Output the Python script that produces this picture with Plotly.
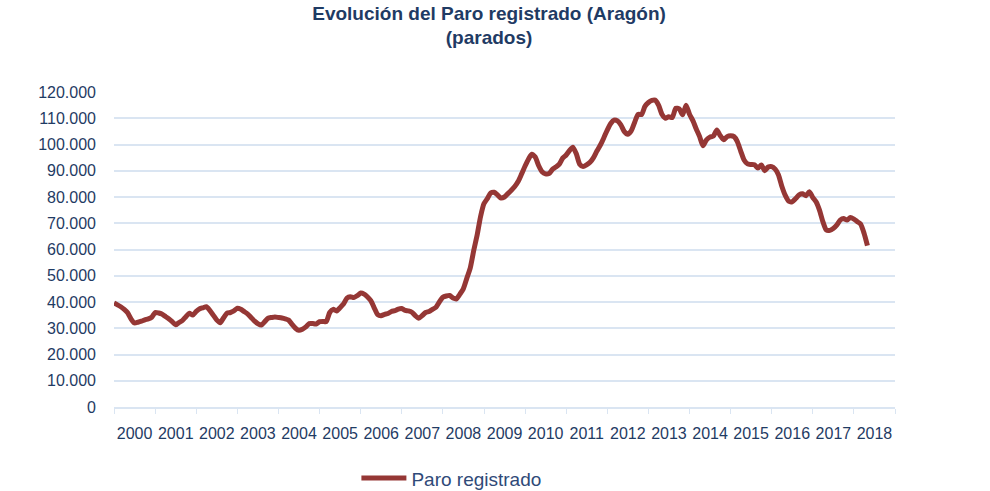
import plotly.graph_objects as go
import pandas as pd

# Monthly registered unemployment in Aragón (Jan 2000 - May 2018), persons
y2000 = [39600, 38900, 38200, 37200, 35900, 33500, 32000, 32300, 32700, 33200, 33600, 34200]
y2001 = [36000, 35800, 35400, 34500, 33600, 32500, 31300, 32200, 33000, 34400, 35700, 35000]
y2002 = [36400, 37400, 37800, 38200, 36800, 35000, 33200, 32100, 34000, 35800, 36000, 36600]
y2003 = [37600, 37200, 36400, 35500, 34200, 32800, 31800, 31200, 32500, 33800, 34100, 34300]
y2004 = [34100, 33900, 33600, 33100, 31500, 30000, 29200, 29600, 30500, 31800, 31800, 31600]
y2005 = [32500, 32600, 32500, 36000, 37200, 36600, 37800, 39200, 41500, 42000, 41700, 42400]
y2006 = [43400, 43000, 42000, 40500, 37800, 35200, 34800, 35300, 35600, 36400, 36700, 37300]
y2007 = [37500, 36800, 36600, 36100, 34800, 33800, 34800, 36000, 36400, 37200, 38000, 40000]
y2008 = [41800, 42300, 42500, 41500, 41200, 43000, 45000, 49000, 53000, 59500, 65500, 72500]
y2009 = [77500, 79500, 81500, 81800, 80800, 79600, 80000, 81300, 82600, 84000, 86000, 88800]
y2010 = [91800, 94500, 96300, 95200, 92000, 89600, 88800, 88900, 90500, 91400, 92500, 94800]
y2011 = [96000, 97800, 99000, 96500, 92500, 91600, 92200, 93200, 95000, 97500, 99800, 102500]
y2012 = [105500, 108000, 109300, 109000, 107500, 104900, 103900, 105200, 108500, 111500, 111400, 114500]
y2013 = [116000, 116800, 116900, 115000, 111500, 110000, 110600, 110300, 113800, 113600, 111300, 115000]
y2014 = [111500, 109000, 106000, 103000, 99500, 101800, 102800, 103200, 105500, 103400, 101800, 103000]
y2015 = [103300, 103000, 101200, 97500, 94100, 92600, 92400, 92300, 91000, 92200, 90000, 91400]
y2016 = [91600, 90600, 88500, 84000, 80600, 78400, 78200, 79400, 80800, 81200, 80500, 82000]
y2017 = [79800, 78000, 75000, 70500, 67400, 67300, 68000, 69300, 71200, 71800, 71200, 72200]
y2018 = [71600, 70600, 69700, 66200, 61500]

values = (y2000 + y2001 + y2002 + y2003 + y2004 + y2005 + y2006 + y2007 + y2008 + y2009
          + y2010 + y2011 + y2012 + y2013 + y2014 + y2015 + y2016 + y2017 + y2018)
months = pd.date_range("2000-01-01", periods=len(values), freq="MS")

series_name = "Paro registrado"
title_text = "<b>Evolución del Paro registrado (Aragón)<br>(parados)</b>"

LINE = "#953735"
TEXT = "#1F3B64"
GRID = "#DAE5F2"
FONT = "Liberation Sans, Arial, sans-serif"

fig = go.Figure()
fig.add_trace(go.Scatter(
    x=months, y=values, mode="lines", name=series_name,
    line=dict(color=LINE, width=5, shape="spline", smoothing=0.6),
))

fig.update_layout(
    width=990, height=491,
    paper_bgcolor="white", plot_bgcolor="white",
    margin=dict(l=114, r=95, t=92, b=84),
    separators=",.",
    font=dict(family=FONT, color=TEXT, size=16),
    title=dict(text=title_text, x=0.494, xanchor="center", y=0.96, yanchor="top",
               font=dict(family=FONT, size=19, color=TEXT)),
    showlegend=True,
    legend=dict(orientation="h", xref="container", yref="container",
                x=0.36, xanchor="left", y=0.026, yanchor="middle",
                font=dict(family=FONT, size=19, color="#2F4A78"),
                itemwidth=45),
    xaxis=dict(
        type="date", range=["2000-01-01", "2019-01-01"],
        tick0="2000-01-01", dtick="M12", tickformat="%Y", ticklabelmode="period",
        ticks="outside", ticklen=5, tickcolor=GRID, tickwidth=1,
        showline=True, linecolor=GRID, linewidth=1.5,
        showgrid=False, zeroline=False,
        tickfont=dict(family=FONT, size=16, color=TEXT),
        ticklabelstandoff=6,
    ),
    yaxis=dict(
        range=[0, 120000], dtick=10000, tick0=0, tickformat=",.0f",
        showgrid=True, gridcolor=GRID, gridwidth=1.5,
        zeroline=False, showline=False, ticks="",
        tickfont=dict(family=FONT, size=16, color=TEXT),
        ticklabelstandoff=17,
    ),
)

fig.write_html("out.html", config={"displayModeBar": False},
               post_script="document.body.style.margin='0';document.body.style.padding='0';")
